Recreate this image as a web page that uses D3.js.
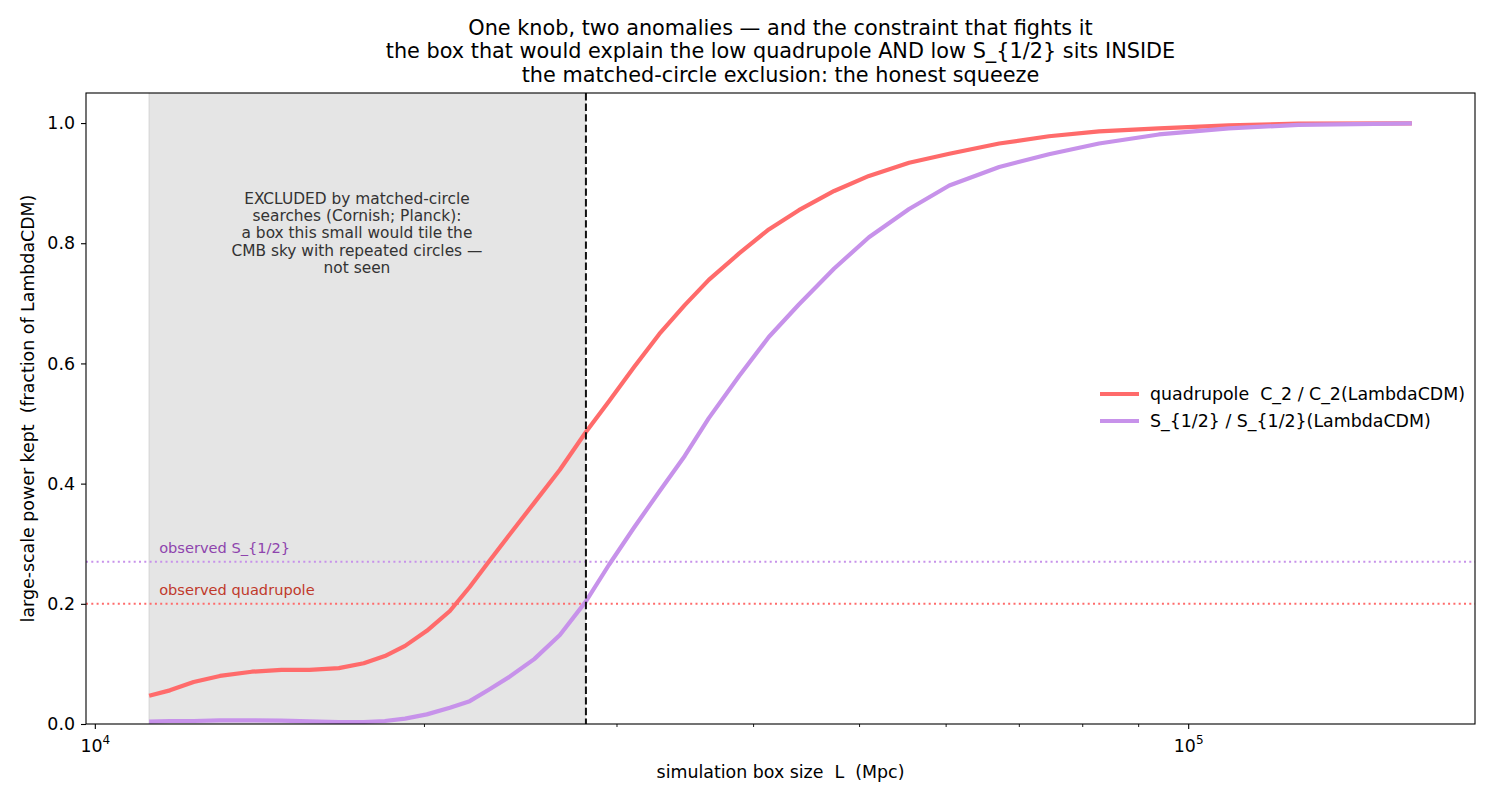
<!DOCTYPE html>
<html>
<head>
<meta charset="utf-8">
<script src="https://cdn.jsdelivr.net/npm/d3@7"></script>
<style>
  html, body { margin: 0; padding: 0; background: #fff; }
  svg { display: block; font-family: "DejaVu Sans", sans-serif; }
  svg text { white-space: pre; }
</style>
</head>
<body>
<div id="chart"></div>
<script>
// box sizes (Mpc) where the curves were sampled
const boxSizes = [
  11200, 11700, 12300, 13000, 13900, 14800, 15700, 16700, 17600, 18400,
  19200, 20100, 21100, 22000, 22900, 23900, 25200, 26600, 28100, 29500,
  31100, 32800, 34600, 36400, 38800, 41300, 44000, 47400, 51000, 55500,
  60400, 67100, 74500, 82800, 93900, 108800, 126000, 160000
];

const quadrupoleKept = [
  0.047, 0.056, 0.070, 0.080, 0.087, 0.090, 0.090, 0.093, 0.101, 0.113,
  0.130, 0.155, 0.188, 0.228, 0.270, 0.314, 0.368, 0.423, 0.486, 0.537,
  0.594, 0.649, 0.697, 0.739, 0.783, 0.823, 0.855, 0.887, 0.912, 0.934,
  0.949, 0.966, 0.978, 0.986, 0.991, 0.996, 0.999, 0.9995
];

const sHalfKept = [
  0.004, 0.005, 0.005, 0.006, 0.006, 0.0055, 0.0045, 0.0033, 0.0033, 0.005,
  0.009, 0.016, 0.027, 0.038, 0.057, 0.078, 0.108, 0.148, 0.204, 0.265,
  0.327, 0.387, 0.446, 0.509, 0.579, 0.644, 0.698, 0.758, 0.810, 0.857,
  0.896, 0.927, 0.948, 0.966, 0.981, 0.991, 0.997, 0.9995
];

const excludedBelow = 28100;       // matched-circle limit
const observedQuadrupole = 0.20;
const observedSHalf = 0.27;

const yTicks = [0.0, 0.2, 0.4, 0.6, 0.8, 1.0];
const xMajorTicks = [1e4, 1e5];
const xMinorTicks = [2e4, 3e4, 4e4, 5e4, 6e4, 7e4, 8e4, 9e4];

const titleLines = [
  "One knob, two anomalies \u2014 and the constraint that fights it",
  "the box that would explain the low quadrupole AND low S_{1/2} sits INSIDE",
  "the matched-circle exclusion: the honest squeeze"
];
const noteLines = [
  "EXCLUDED by matched-circle",
  "searches (Cornish; Planck):",
  "a box this small would tile the",
  "CMB sky with repeated circles \u2014",
  "not seen"
];

const series = [
  { label: "quadrupole  C_2 / C_2(LambdaCDM)", values: quadrupoleKept, color: "#ff6b6b" },
  { label: "S_{1/2} / S_{1/2}(LambdaCDM)", values: sHalfKept, color: "#c792ea" }
];

// ---------- layout ----------
const W = 1495, H = 806;
const plot = { left: 86, right: 1475, top: 93, bottom: 724 };
const FS = 17.4;   // base font size (ticks, labels, legend)

const svg = d3.select("#chart").append("svg")
  .attr("width", W)
  .attr("height", H);

// log x with 5% padding like matplotlib
const [lo, hi] = d3.extent(boxSizes).map(Math.log10);
const pad = (hi - lo) * 0.05;
const x = d3.scaleLog()
  .domain([Math.pow(10, lo - pad), Math.pow(10, hi + pad)])
  .range([plot.left, plot.right]);

const y = d3.scaleLinear()
  .domain([0, 1.05])
  .range([plot.bottom, plot.top]);

// excluded span
svg.append("rect")
  .attr("x", x(boxSizes[0]))
  .attr("y", plot.top)
  .attr("width", x(excludedBelow) - x(boxSizes[0]))
  .attr("height", plot.bottom - plot.top)
  .attr("fill", "#e5e5e5");
svg.append("line")
  .attr("x1", x(boxSizes[0])).attr("x2", x(boxSizes[0]))
  .attr("y1", plot.top).attr("y2", plot.bottom)
  .attr("stroke", "#d2d2d2").attr("stroke-width", 1);

// observed levels
const obs = [
  { v: observedSHalf, color: "#c792ea", text: "observed S_{1/2}", textColor: "#8e44ad" },
  { v: observedQuadrupole, color: "#ff6b6b", text: "observed quadrupole", textColor: "#c0392b" }
];
obs.forEach(o => {
  svg.append("line")
    .attr("x1", plot.left).attr("x2", plot.right)
    .attr("y1", y(o.v)).attr("y2", y(o.v))
    .attr("stroke", o.color)
    .attr("stroke-width", 2)
    .attr("stroke-dasharray", "2,3.3");
  svg.append("text")
    .attr("x", x(boxSizes[0]) + 10)
    .attr("y", y(o.v) - 9)
    .attr("fill", o.textColor)
    .attr("font-size", 14.6)
    .text(o.text);
});

// curves
const line = d3.line()
  .x((d, i) => x(boxSizes[i]))
  .y(d => y(d));

series.forEach(s => {
  svg.append("path")
    .attr("d", line(s.values))
    .attr("fill", "none")
    .attr("stroke", s.color)
    .attr("stroke-width", 4.2)
    .attr("stroke-linejoin", "round");
});

// matched-circle limit
svg.append("line")
  .attr("x1", x(excludedBelow)).attr("x2", x(excludedBelow))
  .attr("y1", plot.top).attr("y2", plot.bottom)
  .attr("stroke", "#111")
  .attr("stroke-width", 2)
  .attr("stroke-dasharray", "7.4,3.2");

// note inside the excluded span
const noteX = Math.sqrt(boxSizes[0] * excludedBelow) * 0.978;
const note = svg.append("text")
  .attr("x", x(noteX))
  .attr("y", 204)
  .attr("text-anchor", "middle")
  .attr("fill", "#333")
  .attr("font-size", 15.4);
noteLines.forEach((t, i) => {
  note.append("tspan")
    .attr("x", x(noteX))
    .attr("dy", i === 0 ? 0 : 17.2)
    .text(t);
});

// frame
svg.append("rect")
  .attr("x", plot.left).attr("y", plot.top)
  .attr("width", plot.right - plot.left)
  .attr("height", plot.bottom - plot.top)
  .attr("fill", "none")
  .attr("stroke", "#000")
  .attr("stroke-width", 1.1);

// y axis
const yAxis = svg.append("g")
  .attr("transform", `translate(${plot.left},0)`)
  .call(d3.axisLeft(y).tickValues(yTicks).tickFormat(d3.format(".1f")).tickSize(5).tickPadding(6));
yAxis.select(".domain").remove();
yAxis.selectAll("text").attr("font-size", FS).attr("fill", "#000").attr("font-family", "DejaVu Sans");
yAxis.selectAll("line").attr("stroke", "#000").attr("stroke-width", 1.1);

// x axis: majors with superscripts, minors plain
const xAxis = svg.append("g")
  .attr("transform", `translate(0,${plot.bottom})`);
xAxis.selectAll("line.minor")
  .data(xMinorTicks)
  .join("line")
  .attr("class", "minor")
  .attr("x1", d => x(d)).attr("x2", d => x(d))
  .attr("y1", 0).attr("y2", 3)
  .attr("stroke", "#000").attr("stroke-width", 0.9);
const major = xAxis.selectAll("g.major")
  .data(xMajorTicks)
  .join("g")
  .attr("class", "major")
  .attr("transform", d => `translate(${x(d)},0)`);
major.append("line")
  .attr("y2", 5).attr("stroke", "#000").attr("stroke-width", 1.1);
const majorText = major.append("text")
  .attr("y", 28)
  .attr("text-anchor", "middle")
  .attr("font-size", FS)
  .attr("fill", "#000");
majorText.append("tspan").text("10");
majorText.append("tspan")
  .attr("dy", -8)
  .attr("font-size", 12)
  .text(d => Math.round(Math.log10(d)));

// axis labels
svg.append("text")
  .attr("x", (plot.left + plot.right) / 2)
  .attr("y", 778)
  .attr("text-anchor", "middle")
  .attr("font-size", FS)
  .text("simulation box size  L  (Mpc)");

svg.append("text")
  .attr("transform", `translate(34,${(plot.top + plot.bottom) / 2}) rotate(-90)`)
  .attr("text-anchor", "middle")
  .attr("font-size", FS)
  .text("large-scale power kept  (fraction of LambdaCDM)");

// title
const title = svg.append("text")
  .attr("x", (plot.left + plot.right) / 2)
  .attr("y", 35)
  .attr("text-anchor", "middle")
  .attr("font-size", 20.8)
  .attr("fill", "#000");
titleLines.forEach((t, i) => {
  title.append("tspan")
    .attr("x", (plot.left + plot.right) / 2)
    .attr("dy", i === 0 ? 0 : 23.4)
    .text(t);
});

// legend
const legend = svg.append("g")
  .attr("transform", "translate(1100,394)");
series.forEach((s, i) => {
  const row = legend.append("g").attr("transform", `translate(0,${i * 27})`);
  row.append("line")
    .attr("x1", 0).attr("x2", 39)
    .attr("stroke", s.color)
    .attr("stroke-width", 4.2);
  row.append("text")
    .attr("x", 50)
    .attr("y", 6)
    .attr("font-size", FS)
    .text(s.label);
});
</script>
</body>
</html>
